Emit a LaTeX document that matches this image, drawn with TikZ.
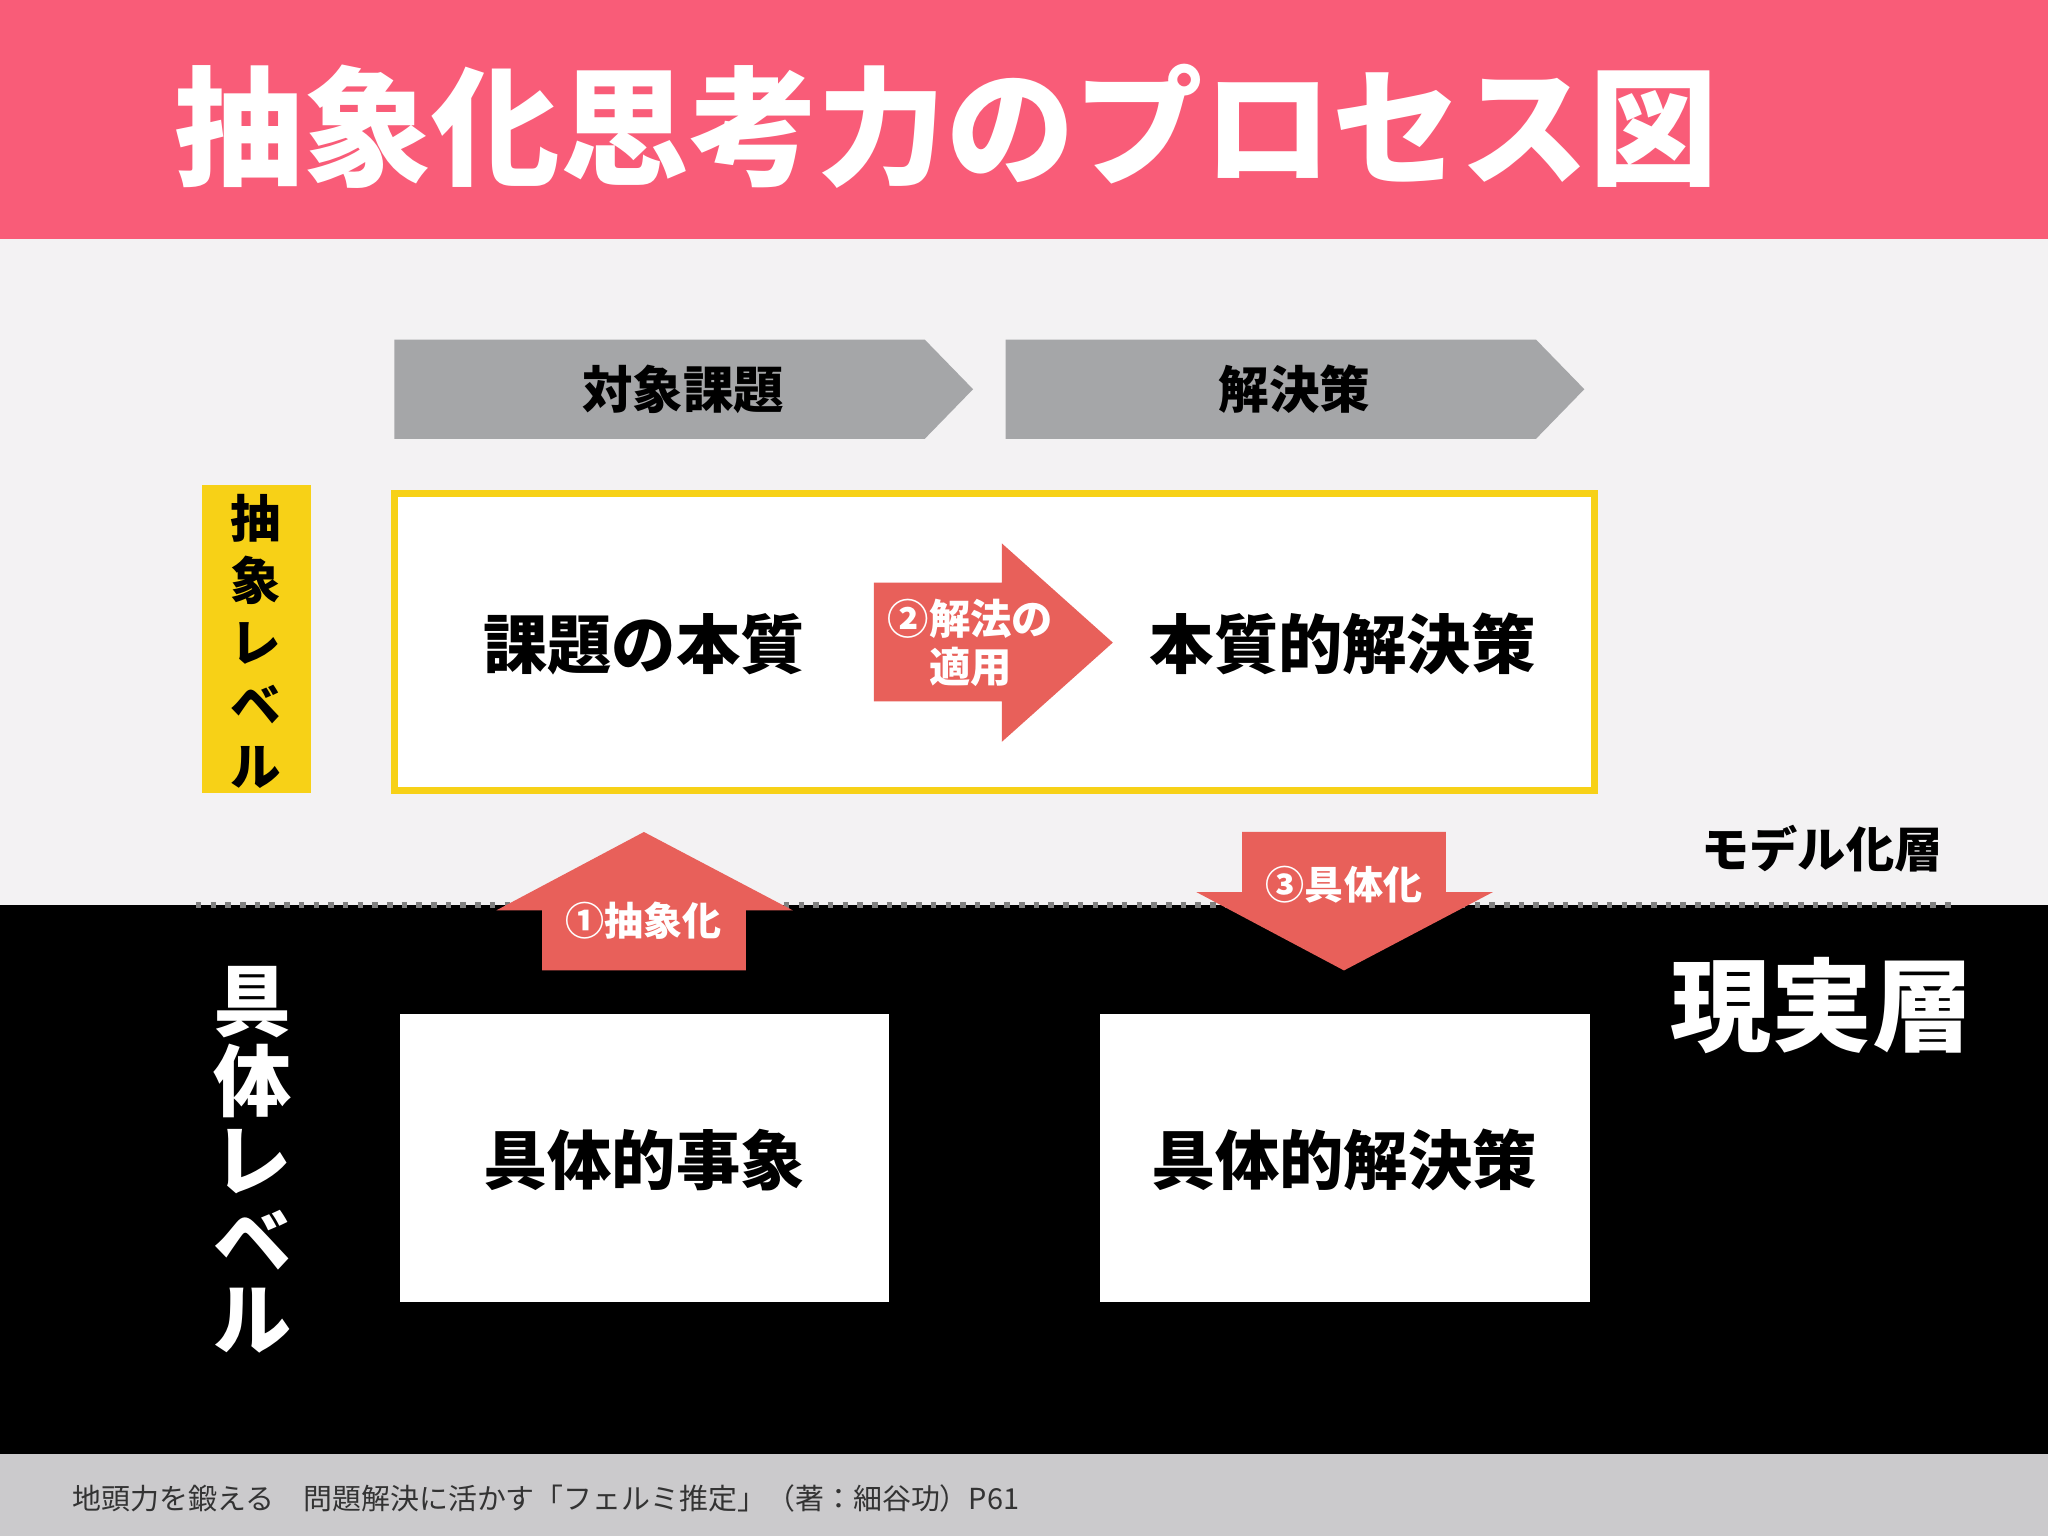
\documentclass[tikz,border=0pt]{standalone}
\usepackage{fontspec}
\setmainfont{Noto Sans CJK JP}
\usetikzlibrary{positioning}
\definecolor{pinkh}{HTML}{F95C78}
\definecolor{bgl}{HTML}{F3F2F3}
\definecolor{foot}{HTML}{CBCACC}
\definecolor{chev}{HTML}{A5A6A8}
\definecolor{yel}{HTML}{F7D117}
\definecolor{redA}{HTML}{E8605A}
\tikzset{
  lbl/.style={font=\bfseries\fontsize{#1}{#1}\selectfont, inner sep=0pt},
  wbox/.style={fill=white, draw=none},
  redarrow/.style={fill=redA, draw=none},
}
\begin{document}
\begin{tikzpicture}[x=0.01cm,y=-0.01cm]
\useasboundingbox (0,0) rectangle (1568,1176);
% backgrounds
\fill[pinkh] (0,0) rectangle (1568,183);
\fill[bgl] (0,183) rectangle (1568,693);
\fill[black] (0,693) rectangle (1568,1113);
\fill[foot] (0,1113) rectangle (1568,1176);
\draw[gray, line width=1.2pt, dotted] (150,693) -- (1495,693);
% title
\node[lbl=28, white, anchor=west] (title) at (133,97) {抽象化思考力のプロセス図};
% chevrons
\fill[chev] (302,260) -- (708,260) -- (745,298) -- (708,336) -- (302,336) -- cycle;
\fill[chev] (770,260) -- (1176,260) -- (1213,298) -- (1176,336) -- (770,336) -- cycle;
\node[lbl=11] (t1) at (523,298) {対象課題};
\node[lbl=11] (t2) at (991,298) {解決策};
% abstract level
\fill[yel] (155,371) rectangle (238,607);
\node[lbl=11, align=center, font=\bfseries\fontsize{11}{13.5}\selectfont] (abs) at (196,491) {抽\\象\\レ\\ベ\\ル};
\draw[yel, line width=1.5pt, fill=white] (302,378) rectangle (1221,605);
\node[lbl=14] (k1) at (493,493) {課題の本質};
\node[lbl=14] (k2) at (1028,493) {本質的解決策};
% arrow 2
\fill[redA] (669,446) -- (767,446) -- (767,416) -- (852,492) -- (767,568) -- (767,537) -- (669,537) -- cycle;
\node[lbl=9, white, align=center, font=\bfseries\fontsize{9}{10.5}\selectfont] (a2) at (743,492) {②解法の\\適用};
% arrow 1
\fill[redA] (415,743) -- (415,697) -- (380,697) -- (493,637) -- (607,697) -- (571,697) -- (571,743) -- cycle;
\node[lbl=8.5, white] (a1) at (493,705) {①抽象化};
% arrow 3
\fill[redA] (951,637) -- (1107,637) -- (1107,683) -- (1143,683) -- (1029,743) -- (916,683) -- (951,683) -- cycle;
\node[lbl=8.5, white] (a3) at (1029,677) {③具体化};
% layer labels
\node[lbl=10.5] (model) at (1395,650) {モデル化層};
\node[lbl=22, white] (real) at (1395,770) {現実層};
\node[lbl=17, white, align=center, font=\bfseries\fontsize{17}{17.3}\selectfont] (conc) at (193,888) {具\\体\\レ\\ベ\\ル};
% concrete boxes
\fill[white] (306,776) rectangle (681,997);
\fill[white] (842,776) rectangle (1217,997);
\node[lbl=14] (g1) at (493,888) {具体的事象};
\node[lbl=14] (g2) at (1029,888) {具体的解決策};
% footer
\node[font=\fontsize{6.3}{7}\selectfont, inner sep=0pt, anchor=west, black!80] (ft) at (55,1147) {地頭力を鍛える\hspace{1em}問題解決に活かす「フェルミ推定」（著：細谷功）P61};
\end{tikzpicture}
\end{document}
